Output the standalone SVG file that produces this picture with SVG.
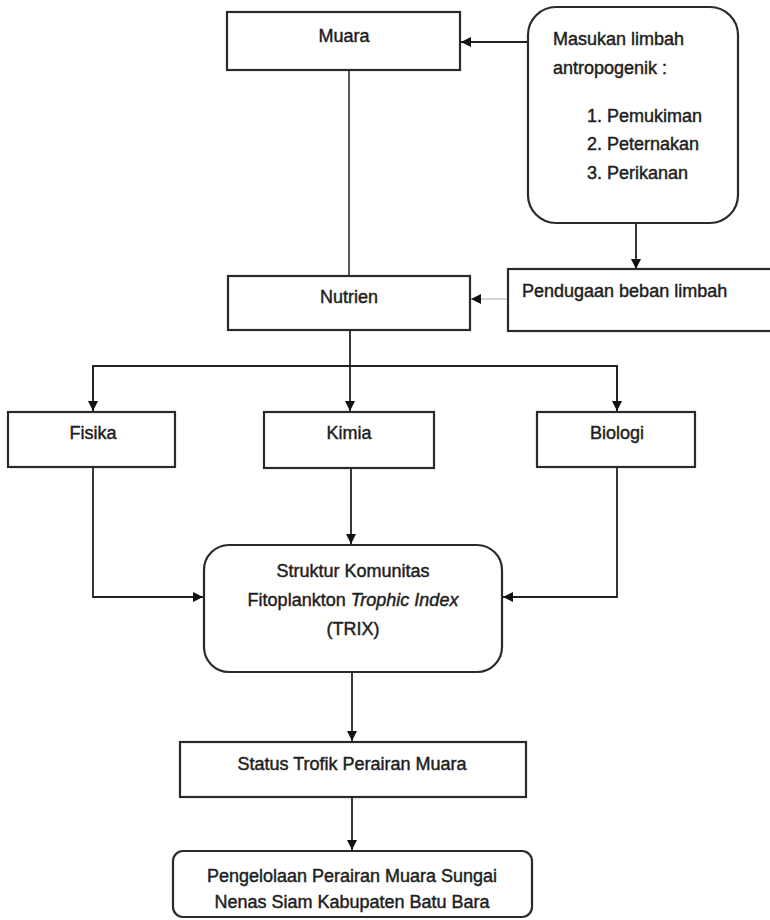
<svg xmlns="http://www.w3.org/2000/svg" width="770" height="920" viewBox="0 0 770 920">
<style>
.box{fill:#fff;stroke:#2a2a2a;stroke-width:2.2}
.ln{fill:none;stroke:#222;stroke-width:1.8}
.t{font-family:"Liberation Sans",Arial,sans-serif;font-size:18px;fill:#1e1e1e;stroke:#1e1e1e;stroke-width:0.45}
.c{text-anchor:middle}
</style>
<defs>
<marker id="ah" viewBox="0 0 10 10" refX="10" refY="5" markerWidth="10" markerHeight="10" markerUnits="userSpaceOnUse" orient="auto">
<path d="M0,0 L10,5 L0,10 z" fill="#111"/>
</marker>
</defs>
<rect width="770" height="920" fill="#fff"/>
<g id="connectors">
<line class="ln" x1="528" y1="42" x2="461" y2="42" marker-end="url(#ah)"/>
<line class="ln" x1="349" y1="70" x2="349" y2="276" style="stroke-width:1.5"/>
<line class="ln" x1="636" y1="223" x2="636" y2="269" marker-end="url(#ah)"/>
<line x1="508" y1="299" x2="471" y2="299" stroke="#aaa" stroke-width="1.2" marker-end="url(#ah)"/>
<line class="ln" x1="350" y1="330" x2="350" y2="366"/>
<polyline class="ln" points="93,412 93,366 617,366 617,412"/>
<line class="ln" x1="93" y1="366" x2="93" y2="411" marker-end="url(#ah)"/>
<line class="ln" x1="350" y1="366" x2="350" y2="411" marker-end="url(#ah)"/>
<line class="ln" x1="617" y1="366" x2="617" y2="411" marker-end="url(#ah)"/>
<polyline class="ln" points="93,467 93,597 203,597" marker-end="url(#ah)"/>
<polyline class="ln" points="617,467 617,597 503,597" marker-end="url(#ah)"/>
<line class="ln" x1="351" y1="468" x2="351" y2="544" marker-end="url(#ah)"/>
<line class="ln" x1="352" y1="672" x2="352" y2="741" marker-end="url(#ah)"/>
<line class="ln" x1="352" y1="797" x2="352" y2="850" marker-end="url(#ah)"/>
</g>
<g id="muara">
<rect class="box" x="227" y="12" width="233" height="58"/>
<text class="t c" x="344" y="42">Muara</text>
</g>
<g id="masukan">
<rect class="box" x="528" y="7" width="210" height="216" rx="28"/>
<text class="t" x="553" y="45">Masukan limbah</text>
<text class="t" x="553" y="74">antropogenik :</text>
<text class="t" x="587" y="122">1. Pemukiman</text>
<text class="t" x="587" y="150">2. Peternakan</text>
<text class="t" x="587" y="179">3. Perikanan</text>
</g>
<g id="nutrien">
<rect class="box" x="228" y="276" width="242" height="54"/>
<text class="t c" x="349" y="303">Nutrien</text>
</g>
<g id="pendugaan">
<rect class="box" x="508" y="269" width="270" height="62"/>
<text class="t" x="522" y="297">Pendugaan beban limbah</text>
</g>
<g id="fisika">
<rect class="box" x="8" y="412" width="167" height="55"/>
<text class="t c" x="93" y="439">Fisika</text>
</g>
<g id="kimia">
<rect class="box" x="264" y="412" width="170" height="56"/>
<text class="t c" x="349" y="439">Kimia</text>
</g>
<g id="biologi">
<rect class="box" x="537" y="412" width="158" height="55"/>
<text class="t c" x="617" y="439">Biologi</text>
</g>
<g id="struktur">
<rect class="box" x="204" y="545" width="298" height="127" rx="25"/>
<text class="t c" x="353" y="577">Struktur Komunitas</text>
<text class="t c" x="353" y="606">Fitoplankton <tspan font-style="italic">Trophic Index</tspan></text>
<text class="t c" x="353" y="635">(TRIX)</text>
</g>
<g id="status">
<rect class="box" x="180" y="742" width="346" height="55"/>
<text class="t c" x="352" y="770">Status Trofik Perairan Muara</text>
</g>
<g id="pengelolaan">
<rect class="box" x="173" y="851" width="359" height="66" rx="10"/>
<text class="t c" x="352" y="882">Pengelolaan Perairan Muara Sungai</text>
<text class="t c" x="352" y="908">Nenas Siam Kabupaten Batu Bara</text>
</g>
</svg>
